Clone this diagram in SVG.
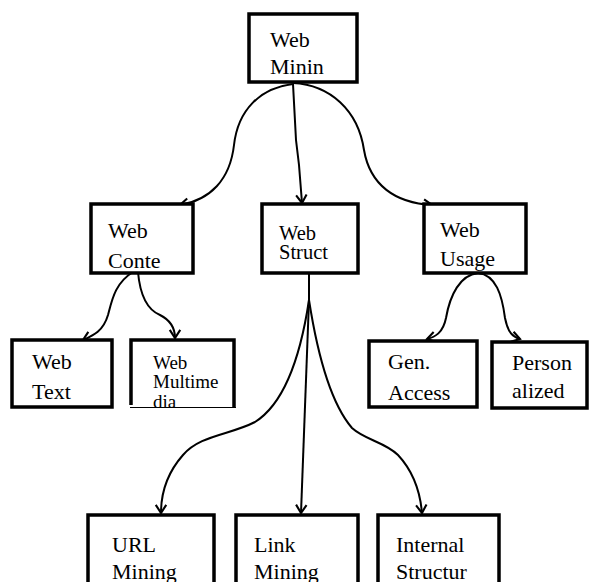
<svg xmlns="http://www.w3.org/2000/svg" width="589" height="582" viewBox="0 0 589 582">
<defs>
<style>
.box{fill:#fff;stroke:#000;stroke-width:3.5}
.t{font-size:22px;fill:#000}
.c{fill:none;stroke:#000;stroke-width:2}
</style>
<marker id="ah" markerUnits="userSpaceOnUse" markerWidth="14" markerHeight="14" viewBox="-8 -6 10 12" refX="0" refY="0" orient="auto">
<path d="M-7,-4.5 L0,0 L-7,4.5" fill="none" stroke="#000" stroke-width="1.8"/>
</marker>
</defs>
<rect width="589" height="582" fill="#fff"/>
<g id="connectors">
<path class="c" d="M293,84 C260,88 238,110 234,145 C230,180 210,200 180,205" marker-end="url(#ah)"/>
<path class="c" d="M293,84 L296,140 L299,165 L302,203" marker-end="url(#ah)"/>
<path class="c" d="M293,83 C330,85 358,110 364,150 C370,185 395,203 432,205" marker-end="url(#ah)"/>
<path class="c" d="M133,272 C115,283 112,300 108,315 C103,332 92,336 83,340" marker-end="url(#ah)"/>
<path class="c" d="M138,272 C140,295 148,310 160,315 C170,320 175,328 175,338" marker-end="url(#ah)"/>
<path class="c" d="M478,273 C460,275 450,295 446,318 C443,333 435,337 427,339" marker-end="url(#ah)"/>
<path class="c" d="M478,273 C496,275 502,295 505,318 C508,333 513,337 520,339" marker-end="url(#ah)"/>
<path class="c" d="M309,273 V308"/>
<path class="c" d="M309,300 C303,340 290,400 255,422 C230,435 200,435 183,455 C168,472 161,490 161,513" marker-end="url(#ah)"/>
<path class="c" d="M309,300 L301,513" marker-end="url(#ah)"/>
<path class="c" d="M309,300 C316,345 328,400 352,428 C365,440 385,442 398,455 C412,470 420,490 422,513" marker-end="url(#ah)"/>
</g>
<g font-family="'Liberation Serif', 'DejaVu Serif', 'Times New Roman', serif">
<g id="web-minin">
<rect class="box" x="249" y="14" width="108" height="68"/>
<text class="t" x="270" y="47">Web</text>
<text class="t" x="270" y="74">Minin</text>
</g>
<g id="web-conte">
<rect class="box" x="91" y="204" width="102" height="69"/>
<text class="t" x="108" y="238">Web</text>
<text class="t" x="108" y="268">Conte</text>
</g>
<g id="web-struct">
<rect class="box" x="262" y="204" width="96" height="69"/>
<text class="t" x="279" y="240" style="font-size:20.5px">Web</text>
<text class="t" x="279" y="259" style="font-size:20.5px">Struct</text>
</g>
<g id="web-usage">
<rect class="box" x="424" y="204" width="102" height="69"/>
<text class="t" x="440" y="237">Web</text>
<text class="t" x="440" y="266">Usage</text>
</g>
<g id="web-text">
<rect class="box" x="12" y="340" width="100" height="67"/>
<text class="t" x="32" y="369">Web</text>
<text class="t" x="32" y="399">Text</text>
</g>
<g id="web-multimedia">
<path d="M131,405 V340 H234 V407" fill="none" stroke="#000" stroke-width="3.5"/>
<text class="t" x="153" y="369" style="font-size:19px">Web</text>
<text class="t" x="153" y="388" style="font-size:19px">Multime</text>
<text class="t" x="153" y="408" style="font-size:19px">dia</text>
<line x1="130" y1="407.5" x2="236" y2="407.5" stroke="#000" stroke-width="1"/>
</g>
<g id="gen-access">
<rect class="box" x="369" y="341" width="108" height="66"/>
<text class="t" x="388" y="369">Gen.</text>
<text class="t" x="388" y="400">Access</text>
</g>
<g id="personalized">
<rect class="box" x="492" y="342" width="95" height="66"/>
<text class="t" x="512" y="370">Person</text>
<text class="t" x="512" y="398">alized</text>
</g>
<g id="url-mining">
<rect class="box" x="88" y="515" width="126" height="80"/>
<text class="t" x="112" y="552">URL</text>
<text class="t" x="112" y="579">Mining</text>
</g>
<g id="link-mining">
<rect class="box" x="236" y="515" width="122" height="80"/>
<text class="t" x="254" y="552">Link</text>
<text class="t" x="254" y="579">Mining</text>
</g>
<g id="internal-structur">
<rect class="box" x="378" y="515" width="121" height="80"/>
<text class="t" x="396" y="552">Internal</text>
<text class="t" x="396" y="579">Structur</text>
</g>
</g>
</svg>
